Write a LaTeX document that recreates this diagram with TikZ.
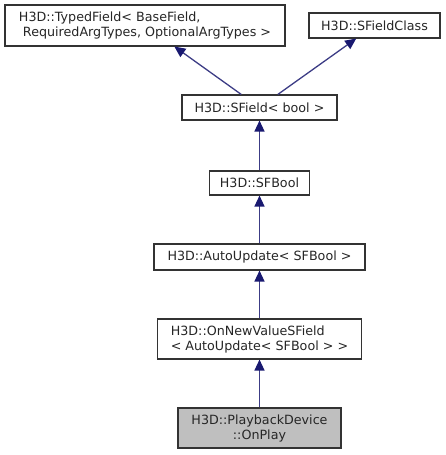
\documentclass[tikz,border=0pt]{standalone}
\usepackage{fontspec}
\setmainfont{DejaVu Sans}
\usetikzlibrary{arrows.meta}
\definecolor{edgeblue}{HTML}{191970}
\definecolor{boxgray}{HTML}{BFBFBF}
\tikzset{
  cls/.style={draw=black!80, line width=1.1pt, fill=white, inner sep=0pt, font=\fontsize{12.7}{15}\selectfont, text=black!85},
  inh/.style={draw=edgeblue!85, line width=1.3pt, -{Triangle[length=11pt,width=10pt,color=edgeblue,fill=edgeblue]}}
}
\begin{document}
\begin{tikzpicture}[x=1pt,y=-1pt]
\useasboundingbox (0,0) rectangle (445,455);
\node[cls, minimum width=280pt, minimum height=41pt, align=left] (tf) at (145,25.5) {H3D::TypedField< BaseField,\\\ RequiredArgTypes, OptionalArgTypes >};
\node[cls, minimum width=131pt, minimum height=25pt] (sfc) at (374.5,25.5) {H3D::SFieldClass};
\node[cls, minimum width=155pt, minimum height=25pt] (sf) at (259.5,107.5) {H3D::SField< bool >};
\node[cls, minimum width=100pt, minimum height=24pt] (sfb) at (259.5,183) {H3D::SFBool};
\node[cls, minimum width=211pt, minimum height=26pt] (au) at (259.5,257) {H3D::AutoUpdate< SFBool >};
\node[cls, minimum width=204pt, minimum height=40pt, align=left] (onv) at (259.5,339) {H3D::OnNewValueSField\\< AutoUpdate< SFBool > >};
\node[cls, fill=boxgray, minimum width=163pt, minimum height=40pt, align=center] (pb) at (259.5,428) {H3D::PlaybackDevice\\::OnPlay};
\draw[inh] (sf) -- (tf);
\draw[inh] (sf) -- (sfc);
\draw[inh] (sfb) -- (sf);
\draw[inh] (au) -- (sfb);
\draw[inh] (onv) -- (au);
\draw[inh] (pb) -- (onv);
\end{tikzpicture}
\end{document}
